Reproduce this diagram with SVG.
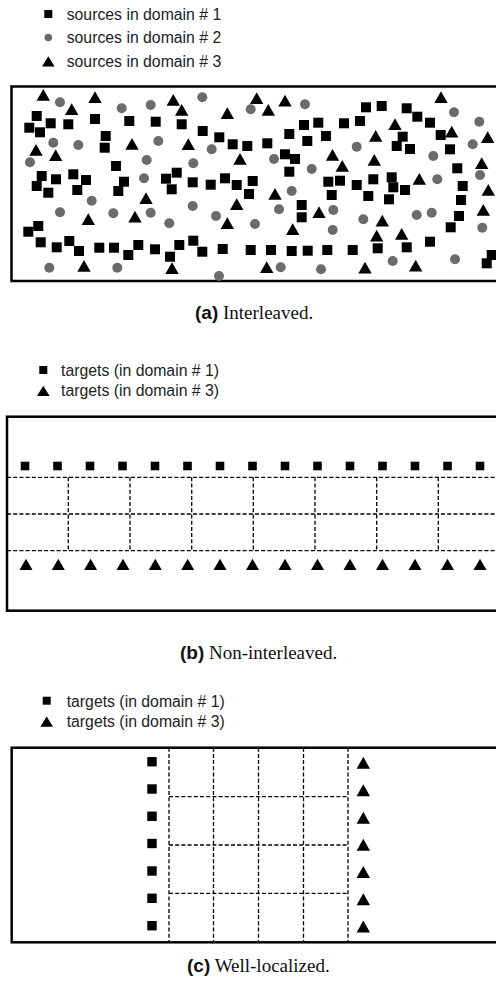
<svg xmlns="http://www.w3.org/2000/svg" xmlns:xlink="http://www.w3.org/1999/xlink" width="496" height="988" viewBox="0 0 496 988">
  <style>
    .legend { font-family: "Liberation Sans", Arial, sans-serif; font-size: 15.8px; fill: #222; }
    .cap { font-size: 19px; fill: #111; }
    .capb { font-family: "Liberation Sans", Arial, sans-serif; font-weight: bold; }
    .capr { font-family: "Liberation Serif", "Times New Roman", serif; }
    .frame { fill: none; stroke: #000; stroke-width: 2.5; }
    .grid { fill: none; stroke: #000; stroke-width: 1.3; stroke-dasharray: 4 2.2; }
    .sq { fill: #000; }
    .dot { fill: #6b6b6b; }
    .tri { fill: #000; }
  </style>
  <defs>
    <rect id="sq" class="sq" x="-5" y="-5" width="10" height="10"/>
    <circle id="dot" class="dot" r="5"/>
    <path id="tri" class="tri" d="M0,-6 L6.7,5.7 L-6.7,5.7 Z"/>
    <rect id="sqs" class="sq" x="-4.3" y="-4.3" width="8.6" height="8.6"/>
    <path id="tris" class="tri" d="M0,-5.8 L6.5,5.4 L-6.5,5.4 Z"/>
    <rect id="sqc" class="sq" x="-4.7" y="-4.7" width="9.4" height="9.4"/>
    <path id="tric" class="tri" d="M0,-6.2 L6.7,5.8 L-6.7,5.8 Z"/>
    <rect id="sql" class="sq" x="-4" y="-4" width="8" height="8"/>
    <circle id="dotl" class="dot" r="3.8"/>
    <path id="tril" class="tri" d="M0,-5.2 L6.3,5 L-6.3,5 Z"/>
  </defs>
  <rect width="496" height="988" fill="#fff"/>

  <!-- (a) interleaved sources -->
  <g id="legend-a">
    <use href="#sql" x="48.3" y="14"/>
    <text class="legend" x="66.7" y="19.5">sources in domain # 1</text>
    <use href="#dotl" x="48.3" y="37.5"/>
    <text class="legend" x="66.7" y="43">sources in domain # 2</text>
    <use href="#tril" x="48.3" y="61.5"/>
    <text class="legend" x="66.7" y="67">sources in domain # 3</text>
  </g>
  <g id="panel-a">
    <rect class="frame" x="11.5" y="86.5" width="500" height="194.5"/>
    <g id="domain1-sources">
      <use href="#sq" x="36.7" y="116"/><use href="#sq" x="50.7" y="123.3"/><use href="#sq" x="29.3" y="127.7"/>
      <use href="#sq" x="40" y="132.3"/><use href="#sq" x="68.3" y="124.3"/><use href="#sq" x="95" y="119"/>
      <use href="#sq" x="129.3" y="121"/><use href="#sq" x="155.7" y="121.7"/><use href="#sq" x="105.7" y="136"/>
      <use href="#sq" x="104.7" y="147.7"/><use href="#sq" x="116" y="166"/><use href="#sq" x="41.7" y="176"/>
      <use href="#sq" x="56" y="179.3"/><use href="#sq" x="73.3" y="174.3"/><use href="#sq" x="86" y="180"/>
      <use href="#sq" x="124" y="181.7"/><use href="#sq" x="166" y="178.7"/><use href="#sq" x="36.7" y="186"/>
      <use href="#sq" x="48.3" y="192.7"/><use href="#sq" x="77.3" y="190"/><use href="#sq" x="118.3" y="191"/>
      <use href="#sq" x="171.7" y="189.3"/><use href="#sq" x="28.3" y="231.7"/><use href="#sq" x="38.3" y="226"/>
      <use href="#sq" x="40.7" y="242.3"/><use href="#sq" x="56.7" y="247.3"/><use href="#sq" x="69.3" y="241"/>
      <use href="#sq" x="79" y="251"/><use href="#sq" x="99.3" y="247.7"/><use href="#sq" x="114" y="247.7"/>
      <use href="#sq" x="128.3" y="255"/><use href="#sq" x="138.3" y="245"/><use href="#sq" x="155" y="249.3"/>
      <use href="#sq" x="170" y="256.7"/>
      <use href="#sq" x="181.7" y="124.3"/><use href="#sq" x="202.7" y="131"/><use href="#sq" x="219.3" y="137.3"/>
      <use href="#sq" x="232.7" y="144.3"/><use href="#sq" x="247.3" y="146"/><use href="#sq" x="267.3" y="143.3"/>
      <use href="#sq" x="289.3" y="134"/><use href="#sq" x="304" y="125"/><use href="#sq" x="318.3" y="122.7"/>
      <use href="#sq" x="307.3" y="141"/><use href="#sq" x="326" y="136"/><use href="#sq" x="285" y="154.3"/>
      <use href="#sq" x="295" y="159"/><use href="#sq" x="289.3" y="171.7"/><use href="#sq" x="176.7" y="172.7"/>
      <use href="#sq" x="192.7" y="182.3"/><use href="#sq" x="210.7" y="184.7"/><use href="#sq" x="225" y="178.3"/>
      <use href="#sq" x="236.7" y="185"/><use href="#sq" x="252.7" y="181"/><use href="#sq" x="328.3" y="181.7"/>
      <use href="#sq" x="249" y="194"/><use href="#sq" x="331.7" y="195"/><use href="#sq" x="301.7" y="205"/>
      <use href="#sq" x="301.7" y="217.3"/><use href="#sq" x="179.3" y="245"/><use href="#sq" x="193.3" y="240.7"/>
      <use href="#sq" x="202.3" y="251.7"/><use href="#sq" x="222.7" y="249"/><use href="#sq" x="250.7" y="250"/>
      <use href="#sq" x="271" y="250"/><use href="#sq" x="291.7" y="251"/><use href="#sq" x="307.7" y="250.7"/>
      <use href="#sq" x="327.3" y="250"/>
      <use href="#sq" x="366" y="107.3"/><use href="#sq" x="381.7" y="106"/><use href="#sq" x="406.7" y="108.3"/>
      <use href="#sq" x="417.3" y="116.7"/><use href="#sq" x="344" y="123.3"/><use href="#sq" x="360" y="121"/>
      <use href="#sq" x="430" y="122.7"/><use href="#sq" x="402.7" y="136.7"/><use href="#sq" x="440.7" y="135"/>
      <use href="#sq" x="396.7" y="146"/><use href="#sq" x="410" y="149"/><use href="#sq" x="450" y="149.3"/>
      <use href="#sq" x="457.3" y="168.3"/><use href="#sq" x="340" y="180.7"/><use href="#sq" x="356.7" y="185"/>
      <use href="#sq" x="373.3" y="179.3"/><use href="#sq" x="391.7" y="177.3"/><use href="#sq" x="462.7" y="186"/>
      <use href="#sq" x="393.3" y="187.3"/><use href="#sq" x="405" y="190"/><use href="#sq" x="368.3" y="196"/>
      <use href="#sq" x="389" y="199.3"/><use href="#sq" x="461" y="200"/><use href="#sq" x="459" y="216"/>
      <use href="#sq" x="450.7" y="227.3"/><use href="#sq" x="430" y="241.7"/><use href="#sq" x="352.7" y="250"/>
      <use href="#sq" x="377.7" y="248.3"/><use href="#sq" x="406.7" y="247.3"/><use href="#sq" x="491.7" y="255"/>
      <use href="#sq" x="486.7" y="263.3"/>
    </g>
    <g id="domain2-sources">
      <use href="#dot" x="60" y="102.3"/><use href="#dot" x="121.7" y="108.3"/><use href="#dot" x="150.7" y="105"/>
      <use href="#dot" x="53.3" y="142.7"/><use href="#dot" x="78.3" y="145"/><use href="#dot" x="158.3" y="141"/>
      <use href="#dot" x="30" y="162.3"/><use href="#dot" x="146.7" y="160"/><use href="#dot" x="144" y="178.3"/>
      <use href="#dot" x="91.7" y="200.7"/><use href="#dot" x="60" y="212.3"/><use href="#dot" x="113.3" y="213.3"/>
      <use href="#dot" x="150.7" y="212.7"/><use href="#dot" x="169.3" y="223.3"/><use href="#dot" x="49.3" y="267.7"/>
      <use href="#dot" x="117.3" y="267.7"/>
      <use href="#dot" x="202.3" y="97.3"/><use href="#dot" x="250.7" y="109.3"/><use href="#dot" x="305" y="104.3"/>
      <use href="#dot" x="211.7" y="149.3"/><use href="#dot" x="274" y="159"/><use href="#dot" x="193.3" y="163.3"/>
      <use href="#dot" x="311.7" y="169"/><use href="#dot" x="291.7" y="191"/>
      <use href="#dot" x="192.7" y="206"/><use href="#dot" x="279" y="209.3"/><use href="#dot" x="216" y="216"/>
      <use href="#dot" x="333.3" y="210"/><use href="#dot" x="255" y="224"/><use href="#dot" x="332.7" y="230"/>
      <use href="#dot" x="280.7" y="267.3"/><use href="#dot" x="321" y="269.3"/><use href="#dot" x="219" y="276"/>
      <use href="#dot" x="454" y="112.3"/><use href="#dot" x="479.3" y="121.7"/><use href="#dot" x="356.7" y="146.7"/>
      <use href="#dot" x="472.7" y="144.3"/><use href="#dot" x="433.3" y="156"/><use href="#dot" x="480" y="175"/>
      <use href="#dot" x="437.3" y="179.3"/>
      <use href="#dot" x="363.3" y="219.3"/><use href="#dot" x="416.7" y="215"/><use href="#dot" x="431.7" y="212.7"/>
      <use href="#dot" x="482.3" y="227.7"/><use href="#dot" x="392.7" y="261"/><use href="#dot" x="455" y="259.3"/>
    </g>
    <g id="domain3-sources">
      <use href="#tri" x="43.3" y="95"/><use href="#tri" x="71.7" y="109.3"/><use href="#tri" x="95" y="97.3"/>
      <use href="#tri" x="173.3" y="100"/><use href="#tri" x="132" y="144"/><use href="#tri" x="36" y="150"/>
      <use href="#tri" x="55.7" y="155.3"/><use href="#tri" x="146" y="198.3"/><use href="#tri" x="88.3" y="219.3"/>
      <use href="#tri" x="135" y="216.7"/><use href="#tri" x="84" y="266"/><use href="#tri" x="172" y="268.3"/>
      <use href="#tri" x="181.7" y="110"/><use href="#tri" x="227.3" y="113.3"/><use href="#tri" x="256.7" y="98.3"/>
      <use href="#tri" x="268.3" y="110"/><use href="#tri" x="285" y="100.7"/><use href="#tri" x="188.3" y="144.3"/>
      <use href="#tri" x="240" y="159"/><use href="#tri" x="332.5" y="155"/>
      <use href="#tri" x="275" y="194"/><use href="#tri" x="236.7" y="204.3"/><use href="#tri" x="319" y="212.3"/>
      <use href="#tri" x="227.3" y="223.3"/><use href="#tri" x="292.7" y="229.3"/><use href="#tri" x="266.7" y="267.3"/>
      <use href="#tri" x="441" y="97.3"/><use href="#tri" x="395" y="124.3"/><use href="#tri" x="375.7" y="136"/>
      <use href="#tri" x="451.7" y="131.7"/><use href="#tri" x="487.7" y="137.3"/><use href="#tri" x="342.3" y="166"/>
      <use href="#tri" x="374.3" y="160"/><use href="#tri" x="481.7" y="163.3"/><use href="#tri" x="419.3" y="179"/>
      <use href="#tri" x="488.3" y="190"/>
      <use href="#tri" x="382.3" y="220.7"/><use href="#tri" x="483.3" y="210"/><use href="#tri" x="376.7" y="235.7"/>
      <use href="#tri" x="401.7" y="234"/><use href="#tri" x="365" y="267.7"/><use href="#tri" x="415.7" y="265.7"/>
    </g>
  </g>
  <text id="caption-a" class="cap" x="195" y="319"><tspan class="capb">(a)</tspan><tspan class="capr"> Interleaved.</tspan></text>

  <!-- (b) non-interleaved targets -->
  <g id="legend-b">
    <use href="#sql" x="43.3" y="370"/>
    <text class="legend" x="61" y="375.5">targets (in domain # 1)</text>
    <use href="#tril" x="43.3" y="391"/>
    <text class="legend" x="61" y="395.5">targets (in domain # 3)</text>
  </g>
  <g id="panel-b">
    <rect class="frame" x="7" y="416.7" width="500" height="194"/>
    <g id="grid-b">
      <path class="grid" d="M7,477.3 H496 M7,514 H496 M7,550.7 H496"/>
      <path class="grid" d="M68.3,477.3 V550.7 M130,477.3 V550.7 M191.7,477.3 V550.7 M253.3,477.3 V550.7 M315,477.3 V550.7 M376.7,477.3 V550.7 M438.3,477.3 V550.7"/>
    </g>
    <g id="targets-b1">
      <use href="#sqs" x="25" y="466"/><use href="#sqs" x="57.5" y="466"/><use href="#sqs" x="90" y="466"/>
      <use href="#sqs" x="122.5" y="466"/><use href="#sqs" x="155" y="466"/><use href="#sqs" x="187.5" y="466"/>
      <use href="#sqs" x="220" y="466"/><use href="#sqs" x="252.5" y="466"/><use href="#sqs" x="285" y="466"/>
      <use href="#sqs" x="317.5" y="466"/><use href="#sqs" x="350" y="466"/><use href="#sqs" x="382.5" y="466"/>
      <use href="#sqs" x="415" y="466"/><use href="#sqs" x="447.5" y="466"/><use href="#sqs" x="480" y="466"/>
    </g>
    <g id="targets-b3">
      <use href="#tris" x="26" y="564.5"/><use href="#tris" x="58.3" y="564.5"/><use href="#tris" x="90.6" y="564.5"/>
      <use href="#tris" x="123" y="564.5"/><use href="#tris" x="155.3" y="564.5"/><use href="#tris" x="187.7" y="564.5"/>
      <use href="#tris" x="220" y="564.5"/><use href="#tris" x="252.5" y="564.5"/><use href="#tris" x="285" y="564.5"/>
      <use href="#tris" x="317.5" y="564.5"/><use href="#tris" x="350" y="564.5"/><use href="#tris" x="382.5" y="564.5"/>
      <use href="#tris" x="415" y="564.5"/><use href="#tris" x="447.5" y="564.5"/><use href="#tris" x="480" y="564.5"/>
    </g>
  </g>
  <text id="caption-b" class="cap" x="180" y="659"><tspan class="capb">(b)</tspan><tspan class="capr"> Non-interleaved.</tspan></text>

  <!-- (c) well-localized targets -->
  <g id="legend-c">
    <use href="#sql" x="46.7" y="700.7"/>
    <text class="legend" x="66.7" y="706.5">targets (in domain # 1)</text>
    <use href="#tril" x="46.7" y="721.7"/>
    <text class="legend" x="66.7" y="726.7">targets (in domain # 3)</text>
  </g>
  <g id="panel-c">
    <rect class="frame" x="11.7" y="747.7" width="500" height="194.6"/>
    <g id="grid-c">
      <path class="grid" d="M169,747.7 V942.3 M213.5,747.7 V942.3 M258.5,747.7 V942.3 M303.5,747.7 V942.3 M348,747.7 V942.3"/>
      <path class="grid" d="M169,796.7 H348 M169,845 H348 M169,893.3 H348"/>
    </g>
    <g id="targets-c1">
      <use href="#sqc" x="152" y="761.7"/><use href="#sqc" x="152" y="789"/><use href="#sqc" x="152" y="816.3"/>
      <use href="#sqc" x="152" y="843.5"/><use href="#sqc" x="152" y="871"/><use href="#sqc" x="152" y="898.3"/>
      <use href="#sqc" x="152" y="925.7"/>
    </g>
    <g id="targets-c3">
      <use href="#tric" x="363.3" y="763"/><use href="#tric" x="363.3" y="790.5"/><use href="#tric" x="363.3" y="818"/>
      <use href="#tric" x="363.3" y="845"/><use href="#tric" x="363.3" y="872.3"/><use href="#tric" x="363.3" y="899.5"/>
      <use href="#tric" x="363.3" y="926.7"/>
    </g>
  </g>
  <text id="caption-c" class="cap" x="187" y="972"><tspan class="capb">(c)</tspan><tspan class="capr"> Well-localized.</tspan></text>
</svg>
